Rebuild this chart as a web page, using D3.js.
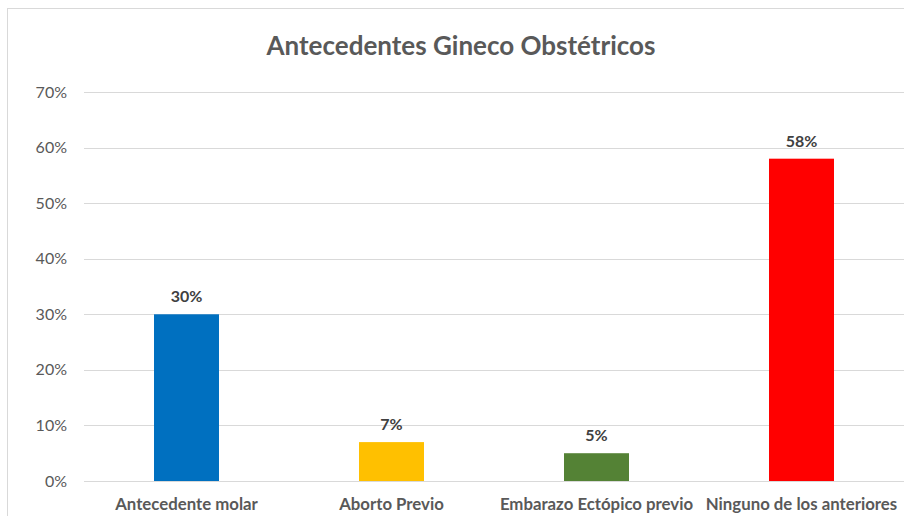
<!DOCTYPE html>
<html>
<head>
<meta charset="utf-8">
<script src="https://cdn.jsdelivr.net/npm/d3@7"></script>
<style>
  html, body { margin: 0; padding: 0; background: #fff; }
  svg { display: block; }
</style>
</head>
<body>
<svg id="chart" width="904" height="516"></svg>
<script>
const categories = ["Antecedente molar", "Aborto Previo", "Embarazo Ectópico previo", "Ninguno de los anteriores"];
const values = [0.30, 0.07, 0.05, 0.58];
const colors = ["#0070C0", "#FFC000", "#548235", "#FF0000"];
const yTicks = [0, 0.1, 0.2, 0.3, 0.4, 0.5, 0.6, 0.7];
const title = "Antecedentes Gineco Obstétricos";

const W = 904, H = 516;
const font = "Lato, 'Open Sans', sans-serif";
const svg = d3.select("#chart");

// chart frame
svg.append("rect")
  .attr("x", 7.5).attr("y", 8.5)
  .attr("width", W + 10).attr("height", H + 10)
  .attr("fill", "#fff").attr("stroke", "#d9d9d9").attr("stroke-width", 1);

const plot = { left: 84, right: 904, top: 92, bottom: 481 };

const x = d3.scaleBand()
  .domain(categories)
  .range([plot.left, plot.right])
  .paddingInner(0.683).paddingOuter(0.3415);

const y = d3.scaleLinear().domain([0, 0.7]).range([plot.bottom, plot.top]);

// gridlines
svg.append("g")
  .selectAll("line")
  .data(yTicks)
  .join("line")
  .attr("x1", plot.left).attr("x2", plot.right)
  .attr("y1", d => Math.round(y(d)) + 0.5).attr("y2", d => Math.round(y(d)) + 0.5)
  .attr("stroke", "#d9d9d9").attr("stroke-width", 1);

// y axis labels
const yAxis = d3.axisLeft(y).tickValues(yTicks).tickFormat(d3.format(".0%")).tickSize(0).tickPadding(0);
const ya = svg.append("g").attr("transform", `translate(67,0)`).call(yAxis);
ya.select(".domain").remove();
ya.selectAll("text")
  .attr("font-family", font).attr("font-size", 16).attr("fill", "#595959");

// bars
svg.append("g")
  .selectAll("rect")
  .data(values)
  .join("rect")
  .attr("x", (d, i) => x(categories[i]))
  .attr("width", x.bandwidth())
  .attr("y", d => y(d))
  .attr("height", d => y(0) - y(d))
  .attr("fill", (d, i) => colors[i]);

// value labels
svg.append("g")
  .selectAll("text")
  .data(values)
  .join("text")
  .attr("x", (d, i) => x(categories[i]) + x.bandwidth() / 2)
  .attr("y", d => y(d) - 12)
  .attr("text-anchor", "middle")
  .attr("font-family", font).attr("font-size", 16).attr("font-weight", "bold")
  .attr("fill", "#404040")
  .text(d => d3.format(".0%")(d));

// category labels
const xAxis = d3.axisBottom(x).tickSize(0).tickPadding(0);
const xa = svg.append("g").attr("transform", `translate(0,${plot.bottom + 17})`).call(xAxis);
xa.select(".domain").remove();
xa.selectAll("text")
  .attr("font-family", font).attr("font-size", 16.8).attr("font-weight", "bold")
  .attr("fill", "#595959");

// title
svg.append("text")
  .attr("x", 461).attr("y", 55)
  .attr("text-anchor", "middle")
  .attr("font-family", font).attr("font-size", 26).attr("font-weight", "bold")
  .attr("fill", "#595959")
  .text(title);
</script>
</body>
</html>
